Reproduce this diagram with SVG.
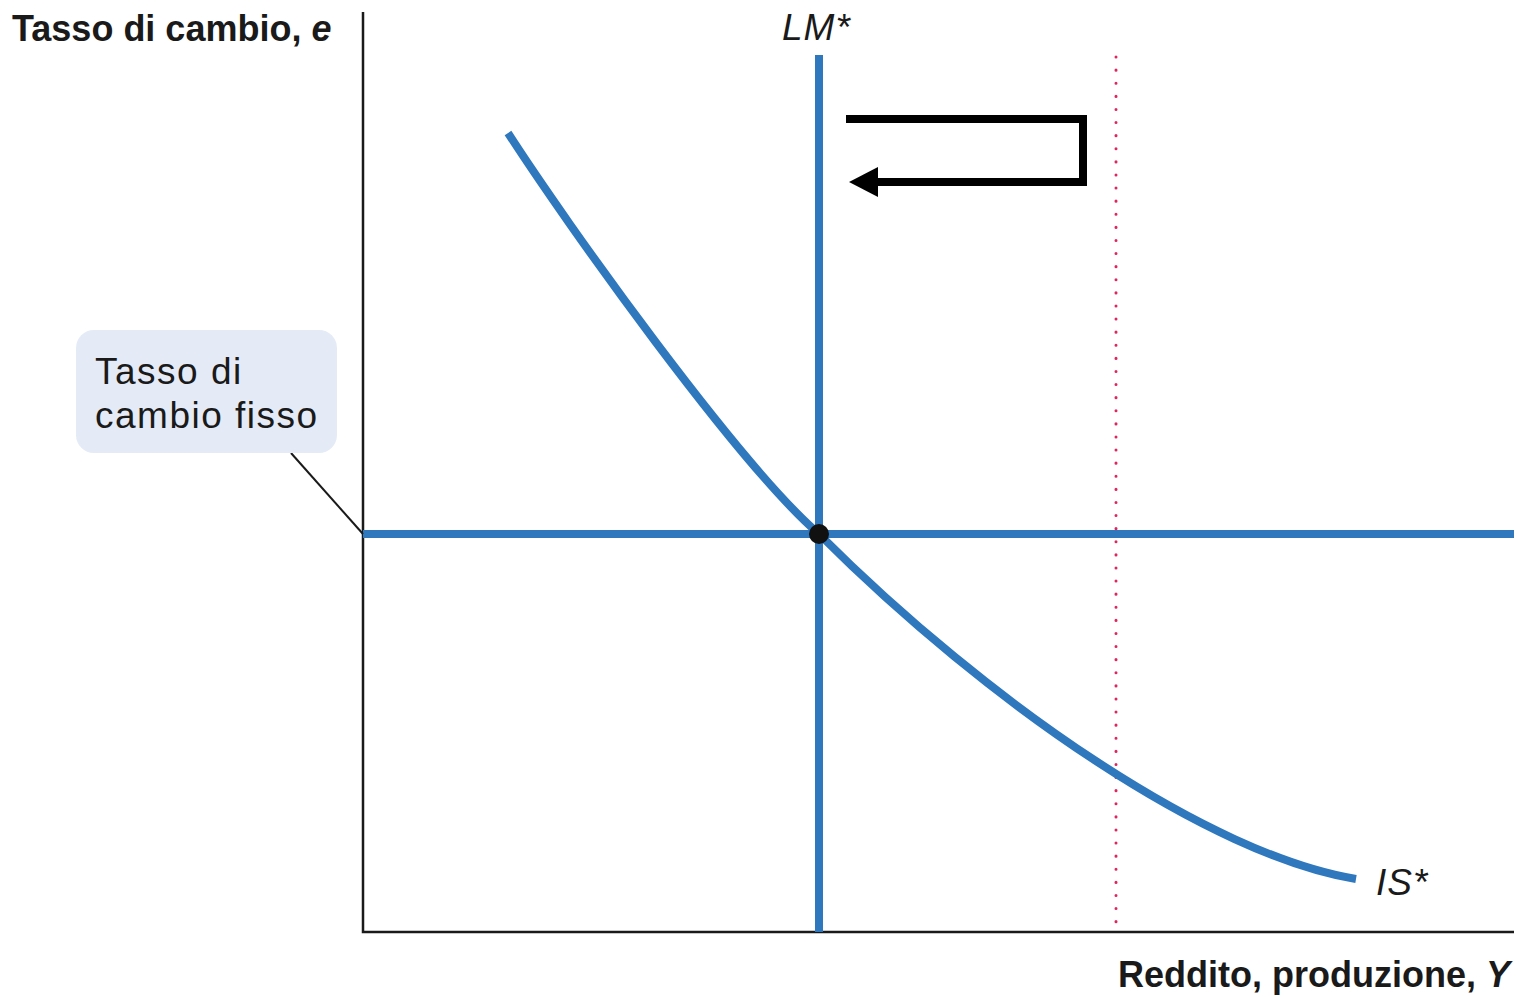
<svg xmlns="http://www.w3.org/2000/svg" width="1520" height="997" viewBox="0 0 1520 997">
<style>
  text { font-family: "Liberation Sans", Arial, sans-serif; fill: #1a1a1a; }
  .axis { fill: none; stroke: #1a1a1a; stroke-width: 2.5; }
  .curve { fill: none; stroke: #2F78BE; stroke-width: 8; }
  .title { font-size: 36px; font-weight: bold; }
  .lbl { font-size: 37px; font-style: italic; letter-spacing: 1px; }
  .callout { font-size: 37px; letter-spacing: 1.5px; }
</style>
<rect width="1520" height="997" fill="#fff"/>
<g id="axes">
  <path class="axis" d="M363,12 L363,932 L1514,932"/>
  <text class="title" x="12" y="41">Tasso di cambio, <tspan font-style="italic">e</tspan></text>
  <text class="title" x="1510" y="987" text-anchor="end">Reddito, produzione, <tspan font-style="italic">Y</tspan></text>
</g>
<g id="connectors">
  <line x1="1116" y1="57" x2="1116" y2="932" stroke="#E0245E" stroke-width="3" stroke-dasharray="0.1 13" stroke-linecap="round"/>
  <line x1="363" y1="534" x2="1514" y2="534" class="curve"/>
  <path class="curve" d="M508,133 C568,226 739,465 819,534 C990,705 1210,855 1356,879"/>
  <line x1="819" y1="55" x2="819" y2="932" class="curve"/>
  <line x1="291" y1="453" x2="363" y2="534" stroke="#1a1a1a" stroke-width="2"/>
  <path d="M846,119 L1083,119 L1083,182 L874,182" fill="none" stroke="#000" stroke-width="8"/>
  <polygon points="849,182 878,167 878,197" fill="#000"/>
</g>
<g id="equilibrium">
  <circle cx="819" cy="534" r="10" fill="#111"/>
</g>
<g id="LM">
  <text class="lbl" x="782" y="40">LM*</text>
</g>
<g id="IS">
  <text class="lbl" x="1376" y="895">IS*</text>
</g>
<g id="callout">
  <rect x="76" y="330" width="261" height="123" rx="18" fill="#E4EBF6"/>
  <text class="callout" x="95" y="384">Tasso di</text>
  <text class="callout" x="95" y="428">cambio fisso</text>
</g>
</svg>
